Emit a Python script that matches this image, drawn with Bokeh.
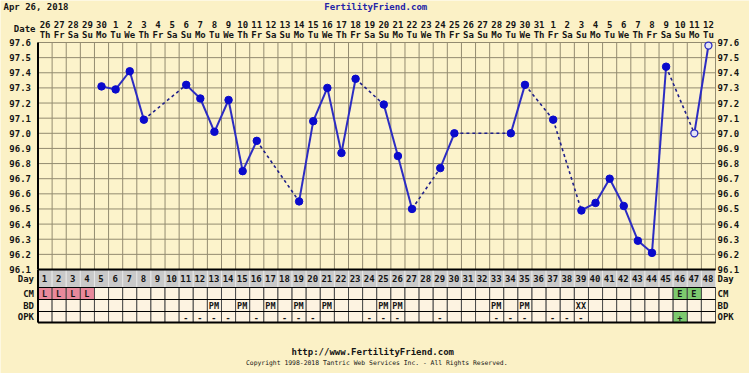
from bokeh.plotting import figure
from bokeh.models import Range1d
from bokeh.core.properties import value
from bokeh.embed import file_html
from bokeh.resources import INLINE

# ---------------- data ----------------
chart_date = "Apr 26, 2018"
site_name = "FertilityFriend.com"
footer_url = "http://www.FertilityFriend.com"
footer_copy = "Copyright 1998-2018 Tantric Web Services Inc. - All Rights Reserved."

cycle_days = list(range(1, 49))
date_labels = ["26", "27", "28", "29", "30", "1", "2", "3", "4", "5", "6", "7", "8", "9",
               "10", "11", "12", "13", "14", "15", "16", "17", "18", "19", "20", "21", "22",
               "23", "24", "25", "26", "27", "28", "29", "30", "31", "1", "2", "3", "4", "5",
               "6", "7", "8", "9", "10", "11", "12"]
weekday_labels = ["Th", "Fr", "Sa", "Su", "Mo", "Tu", "We", "Th", "Fr", "Sa", "Su", "Mo",
                  "Tu", "We", "Th", "Fr", "Sa", "Su", "Mo", "Tu", "We", "Th", "Fr", "Sa",
                  "Su", "Mo", "Tu", "We", "Th", "Fr", "Sa", "Su", "Mo", "Tu", "We", "Th",
                  "Fr", "Sa", "Su", "Mo", "Tu", "We", "Th", "Fr", "Sa", "Su", "Mo", "Tu"]
temps = [None, None, None, None, 97.31, 97.29, 97.41, 97.09, None, None,
         97.32, 97.23, 97.01, 97.22, 96.75, 96.95, None, None, 96.55, 97.08,
         97.30, 96.87, 97.36, None, 97.19, 96.85, 96.50, None, 96.77, 97.00,
         None, None, None, 97.00, 97.32, None, 97.09, None, 96.49, 96.54,
         96.70, 96.52, 96.29, 96.21, 97.44, None, 97.00, 97.58]
open_days = [47, 48]

y_ticks = [96.1, 96.2, 96.3, 96.4, 96.5, 96.6, 96.7, 96.8, 96.9, 97.0,
           97.1, 97.2, 97.3, 97.4, 97.5, 97.6]
y_tick_labels = ["96.1", "96.2", "96.3", "96.4", "96.5", "96.6", "96.7", "96.8", "96.9",
                 "97.0", "97.1", "97.2", "97.3", "97.4", "97.5", "97.6"]

row_names = ["Day", "CM", "BD", "OPK"]
cm_days = [1, 2, 3, 4, 46, 47]
cm_text = ["L", "L", "L", "L", "E", "E"]
bd_days = [13, 15, 17, 19, 21, 25, 26, 33, 35, 39]
bd_text = ["PM", "PM", "PM", "PM", "PM", "PM", "PM", "PM", "PM", "XX"]
opk_days = [11, 12, 13, 14, 16, 18, 19, 20, 24, 25, 26, 29, 33, 34, 35, 37, 38, 39, 46]
opk_text = ["-", "-", "-", "-", "-", "-", "-", "-", "-", "-", "-", "-", "-", "-", "-",
            "-", "-", "-", "+"]

# ---------------- layout / style ----------------
W, H = 749, 373
PL, PR = 37.5, 715        # chart frame left/right on canvas (px)
PT, PB = 42, 269          # chart frame top/bottom on canvas (px)
NCOL = len(cycle_days)
col_w = (PR - PL) / NCOL
T_TOP, T_BOT = y_ticks[-1], y_ticks[0]
deg_px = (PB - PT) / (T_TOP - T_BOT)
X0, X1 = 0.5, NCOL + 0.5

# table rows (canvas px, top/bottom)
row_tops = [269, 287, 299, 311]
row_bots = [287, 299, 311, 322]

BG = "#fbf1c6"
PLOT_BG = "#fcf3cb"
GRID = "#938b70"
TXT = "#151515"
FONT = value("DejaVu Sans Mono")
LINE_BLUE = "#2c2cc2"
DOT_BLUE = "#0a0acc"

p = figure(width=W, height=H,
           x_range=Range1d(X0 - PL / col_w, X1 + (W - PR) / col_w),
           y_range=Range1d(T_BOT - (H - PB) / deg_px, T_TOP + PT / deg_px),
           output_backend="svg", toolbar_location=None,
           x_axis_type=None, y_axis_type=None, min_border=0)
p.extra_y_ranges = {"px": Range1d(start=H, end=0)}
p.outline_line_color = None
p.background_fill_color = BG
p.border_fill_color = BG

# chart background
p.quad(left=[X0], right=[X1], bottom=[T_BOT], top=[T_TOP],
       fill_color=PLOT_BG, line_color=None)

# grid
p.segment(x0=[X0] * len(y_ticks), x1=[X1] * len(y_ticks), y0=y_ticks, y1=y_ticks,
          line_color=GRID, line_width=1)
vx = [d - 0.5 for d in cycle_days] + [X1]
p.segment(x0=vx, x1=vx, y0=[T_BOT] * len(vx), y1=[T_TOP] * len(vx),
          line_color=GRID, line_width=1)

# temperature lines
sx0, sy0, sx1, sy1 = [], [], [], []
dx0, dy0, dx1, dy1 = [], [], [], []
valid = [(d, t) for d, t in zip(cycle_days, temps) if t is not None]
for (da, ta), (db, tb) in zip(valid[:-1], valid[1:]):
    if db - da == 1:
        sx0.append(da); sy0.append(ta); sx1.append(db); sy1.append(tb)
    else:
        dx0.append(da); dy0.append(ta); dx1.append(db); dy1.append(tb)
p.segment(x0=dx0, y0=dy0, x1=dx1, y1=dy1, line_color="#20208a", line_width=1.6,
          line_dash="3 3")
p.segment(x0=sx0, y0=sy0, x1=sx1, y1=sy1, line_color=LINE_BLUE, line_width=2)

fx = [d for d, t in valid if d not in open_days]
fy = [t for d, t in valid if d not in open_days]
ox = [d for d, t in valid if d in open_days]
oy = [t for d, t in valid if d in open_days]
p.scatter(fx, fy, size=7.5, fill_color=DOT_BLUE, line_color=DOT_BLUE)
p.scatter(ox, oy, size=7, fill_color="#e4e4f4", line_color=LINE_BLUE, line_width=1.3)

# frame border (left)
p.segment(x0=[X0], x1=[X0], y0=[T_BOT], y1=[T_TOP], line_color="black", line_width=2)

# y labels
p.text(x=[X0] * len(y_ticks), y=y_ticks, text=y_tick_labels, x_offset=-7,
       text_align="right", text_baseline="middle", text_font=FONT,
       text_font_style="bold", text_font_size="9px", text_color=TXT)
p.text(x=[X1] * len(y_ticks), y=y_ticks, text=y_tick_labels, x_offset=2,
       text_align="left", text_baseline="middle", text_font=FONT,
       text_font_style="bold", text_font_size="9px", text_color=TXT)

# header
p.text(x=cycle_days, y=[24] * NCOL, text=date_labels, y_range_name="px",
       text_align="center", text_baseline="middle", text_font=FONT,
       text_font_style="bold", text_font_size="9px", text_color=TXT)
p.text(x=cycle_days, y=[34.5] * NCOL, text=weekday_labels, y_range_name="px",
       text_align="center", text_baseline="middle", text_font=FONT,
       text_font_style="bold", text_font_size="9px", text_color=TXT)
p.text(x=[X0], y=[28], text=["Date"], y_range_name="px", x_offset=-2.5,
       text_align="right", text_baseline="middle", text_font=FONT,
       text_font_style="bold", text_font_size="9px", text_color=TXT)
p.text(x=[X0 - PL / col_w], y=[6], text=[chart_date], y_range_name="px", x_offset=3,
       text_align="left", text_baseline="middle", text_font=FONT,
       text_font_style="bold", text_font_size="9px", text_color=TXT)
p.text(x=[(X0 + X1) / 2], y=[6], text=[site_name], y_range_name="px", x_offset=-1,
       text_align="center", text_baseline="middle", text_font=FONT,
       text_font_style="bold", text_font_size="9px", text_color="#2424a8")

# table cells
cx = [d - 0.5 for d in cycle_days]
p.quad(left=cx, right=[d + 0.5 for d in cycle_days], top=[row_tops[0]] * NCOL,
       bottom=[row_bots[0]] * NCOL, y_range_name="px",
       fill_color="#c9c9c9", line_color="#e6e6e6", line_width=1)
for r in range(1, 4):
    p.quad(left=cx, right=[d + 0.5 for d in cycle_days], top=[row_tops[r]] * NCOL,
           bottom=[row_bots[r]] * NCOL, y_range_name="px",
           fill_color="#fdf3e1", line_color="#4a4a4a", line_width=1)

mark_colors = {"L": "#e8899b", "E": "#7dca6e", "+": "#7dca6e"}
for days_, texts_, r in [(cm_days, cm_text, 1), (bd_days, bd_text, 2), (opk_days, opk_text, 3)]:
    cd = [d for d, t in zip(days_, texts_) if t in mark_colors]
    cc = [mark_colors[t] for d, t in zip(days_, texts_) if t in mark_colors]
    if cd:
        p.quad(left=[d - 0.5 for d in cd], right=[d + 0.5 for d in cd],
               top=[row_tops[r]] * len(cd), bottom=[row_bots[r]] * len(cd),
               y_range_name="px", fill_color=cc, line_color="#4a4a4a", line_width=1)
    p.text(x=days_, y=[(row_tops[r] + row_bots[r]) / 2] * len(days_), text=texts_,
           y_range_name="px", x_offset=-0.5, text_align="center", text_baseline="middle",
           text_font=FONT, text_font_style="bold", text_font_size="8.5px", text_color=TXT)

# table lines
hl = row_tops + [row_bots[-1]]
p.segment(x0=[X0] * len(hl), x1=[X1] * len(hl), y0=hl, y1=hl, y_range_name="px",
          line_color="black", line_width=1.2)
p.segment(x0=[X0, X0], x1=[X1, X1], y0=[row_tops[0], row_bots[-1]],
          y1=[row_tops[0], row_bots[-1]], y_range_name="px", line_color="black",
          line_width=2)
p.segment(x0=[X0], x1=[X0], y0=[row_tops[0]], y1=[row_bots[-1]], y_range_name="px",
          line_color="black", line_width=2)

# day numbers
p.text(x=cycle_days, y=[(row_tops[0] + row_bots[0]) / 2] * NCOL,
       text=[str(d) for d in cycle_days], y_range_name="px", x_offset=-0.5,
       text_align="center", text_baseline="middle", text_font=FONT,
       text_font_style="bold", text_font_size="9px", text_color=TXT)

# row labels
rc = [(a + b) / 2 for a, b in zip(row_tops, row_bots)]
p.text(x=[X0] * 4, y=rc, text=row_names, y_range_name="px", x_offset=-4,
       text_align="right", text_baseline="middle", text_font=FONT,
       text_font_style="bold", text_font_size="9px", text_color=TXT)
p.text(x=[X1] * 4, y=rc, text=row_names, y_range_name="px", x_offset=2,
       text_align="left", text_baseline="middle", text_font=FONT,
       text_font_style="bold", text_font_size="9px", text_color=TXT)

# footer
p.text(x=[(X0 + X1) / 2], y=[351.5], text=[footer_url], y_range_name="px", x_offset=-4,
       text_align="center", text_baseline="middle", text_font=FONT,
       text_font_style="bold", text_font_size="9px", text_color=TXT)
p.text(x=[(X0 + X1) / 2], y=[362], text=[footer_copy], y_range_name="px",
       text_align="center", text_baseline="middle", text_font=FONT,
       text_font_size="6.4px", text_color=TXT)

open("out.html", "w").write(file_html(p, INLINE))
